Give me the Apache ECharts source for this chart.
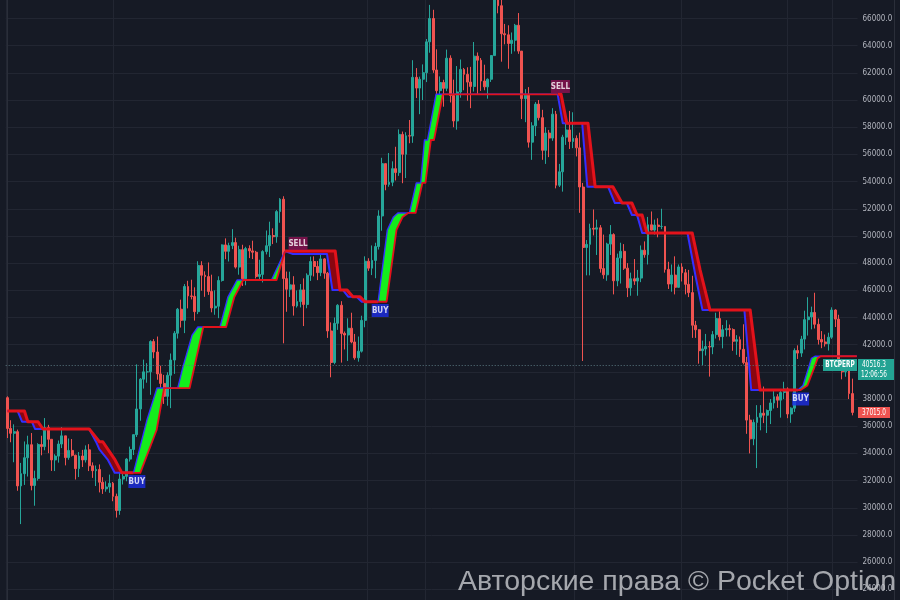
<!DOCTYPE html>
<html><head><meta charset="utf-8">
<script src="https://cdn.jsdelivr.net/npm/echarts@6/dist/echarts.min.js"></script>
<style>html,body{margin:0;padding:0;background:#161a25;}#c{width:900px;height:600px;}</style>
</head><body><div id="c"></div>
<script>
// ---- data (daily candles, 2021-06-18 .. 2022-02-21) ----
const startDate = [2021, 5, 18];
const open = [
38100,35840,35480,35600,31610,32510,33680,34640,31640,32160,34650,34500,35910,
35040,33520,33800,34690,35290,33690,34220,33860,32880,33810,33520,34260,33090,32730,32820,31880,31390,31530,31800,30840,29800,32110,32310,33580,34290,35380,37270,39460,40000,40000,42230,
41460,39850,39150,38200,39750,40870,42840,44610,43790,46280,45590,45550,44430,47830,47110,47010,45920,44700,44830,46720,49340,48870,49290,49510,47710,48990,46850,49070,48900,48800,47020,
47170,48850,49280,50030,49940,51790,52700,46860,46080,46400,44850,45170,46030,44960,47110,48120,47750,47300,48310,47260,43010,40690,43570,44900,42830,42710,43210,42200,41030,41520,
43790,48140,47630,48200,49220,51470,55320,53790,53950,54950,54660,57470,56010,57370,57350,61670,60880,61530,62010,64280,66000,62210,60690,61290,60860,63080,60330,58460,60590,62250,61890,
61320,61000,63230,62930,61400,60970,61530,63270,67530,66940,64880,64800,64160,64400,65500,63600,60100,60360,56900,58100,59700,58700,56300,57570,57200,58960,53730,54720,57270,57800,
56950,57180,56480,53600,49150,49380,50560,50500,50600,47600,47140,49400,50100,46700,48380,48870,47630,46180,46850,46680,46900,48950,48620,50820,50430,50800,50700,50700,47540,46460,47120,
46220,47720,47290,46440,45830,43430,43100,41560,41690,41860,41830,42740,43920,42590,43100,43180,43110,42250,42370,41660,40680,36450,35070,36280,36660,36960,36810,37160,37710,38170,37920,
38480,38740,36900,37330,41570,41380,42410,43840,44040,44370,43500,42380,42200,42070,42550,44550,43880,40520,40000,40100,38400
];
const high = [
38200,36440,36140,35750,33300,34880,35300,35500,32730,34750,35300,36600,36100,
35040,33940,34950,35940,35290,35100,35060,33910,34100,34260,34590,34680,33340,33110,33190,32250,31950,32440,31900,31040,32860,32580,33650,34500,35400,40550,39540,40900,40640,42320,42410,
42600,40450,39780,39970,41350,43000,44700,45310,46460,46700,46780,46220,48140,48140,47400,48050,47150,46000,47030,49380,49820,49500,50500,49870,49280,49350,49200,49310,49650,48900,48250,
48950,50400,51050,50560,51900,52780,52920,47380,47370,47040,45990,46460,46880,47250,48480,48500,48160,48820,48370,47350,43640,44000,44980,45200,42970,43940,44350,42790,42600,44130,
48500,48360,49300,49500,51890,55750,55330,56100,55490,56560,57840,57680,57630,58530,62930,62350,61720,62620,64490,67000,66640,63730,61740,61490,63710,63290,61500,62500,62980,62360,62410,
62440,64270,63500,63090,62600,61590,63300,67790,68520,69000,65600,65500,64970,65600,66400,63600,60800,60950,58370,59850,60000,59280,58000,57800,59400,59200,55300,57440,58860,59200,
59100,57400,57600,53900,49700,50900,51950,51200,50800,50100,49500,50800,50200,48700,49500,49400,48000,47300,48300,47500,49300,49600,51400,51800,51200,51300,52000,50700,48100,47900,48500,
47900,47990,47570,47500,47070,43750,43140,42300,42790,42250,43000,44350,44460,43450,43800,43480,43200,42700,42600,43500,41100,36840,36500,37550,37550,38920,37230,38000,38720,38360,38740,
39270,38860,37390,41730,41950,42650,44500,45490,44800,45820,43920,43000,42750,42880,44750,44600,44200,40950,40460,40150,39500
];
const low = [
35130,34820,33350,31250,28800,31680,32300,31280,30150,32000,33860,34230,34020,
32710,32700,33320,34390,33120,33530,33770,32080,32260,33000,33330,32700,32200,31600,31130,31020,31180,31100,30480,29280,29480,31710,31950,33400,33880,35210,36400,38770,39200,38310,41000,
39420,38690,37640,37510,37330,39850,42450,43260,42850,44670,45330,43770,44250,45970,45520,45660,44380,44200,43950,46640,48290,48120,49030,47600,47150,46320,46370,48370,48300,46870,46700,
46580,48640,48450,49400,49500,50970,42100,44420,45510,44140,44730,44740,43370,44680,46690,47020,46750,47040,46850,42500,39600,40560,43090,40680,41650,40800,42100,40890,40750,41420,
43280,47430,47120,46890,49000,50380,53360,53620,53660,54080,54420,53880,54260,56820,56850,60150,58960,60000,61320,63480,62000,60000,59700,59510,60650,59820,58000,57820,60170,60720,59950,
59400,60620,60380,60670,60720,60100,61330,63270,66380,62820,64100,62300,63400,63580,63400,58600,58370,56500,55600,57350,58500,55600,55300,55800,57000,53500,53600,53260,56700,56400,
56460,55850,51700,40800,47100,47100,50040,48600,47300,46850,46700,48600,45700,46300,46500,47500,45500,45600,46400,45600,46600,48400,47900,50400,50100,49900,50500,47300,46100,45900,45700,
46200,46650,45700,45500,42500,42500,40600,40500,41200,39650,41300,42450,42310,41730,42600,42600,41550,41250,41100,40550,35440,34000,34600,32920,35700,36230,35500,36160,37300,37350,36630,
38000,36590,36250,37050,40950,41100,41650,42670,43130,43190,42010,41740,41860,41570,42430,43300,40070,39450,39640,38000,36800
];
const close = [
35840,35480,35600,31610,32510,33680,34640,31640,32160,34650,34500,35910,35040,
33520,33800,34690,35290,33690,34220,33860,32880,33810,33520,34260,33090,32730,32820,31880,31390,31530,31800,30840,29800,32110,32310,33580,34290,35380,37270,39460,40000,40000,42230,41460,
39850,39150,38200,39750,40870,42840,44610,43790,46280,45590,45550,44430,47830,47110,47010,45920,44700,44830,46720,49340,48870,49290,49510,47710,48990,46850,49070,48900,48800,47020,47170,
48850,49280,50030,49940,51790,52700,46860,46080,46400,44850,45170,46030,44960,47110,48120,47750,47300,48310,47260,43010,40690,43570,44900,42830,42710,43210,42200,41030,41520,43790,
48140,47630,48200,49220,51470,55320,53790,53950,54950,54660,57470,56010,57370,57350,61670,60880,61530,62010,64280,66000,62210,60690,61290,60860,63080,60330,58460,60590,62250,61890,61320,
61000,63230,62930,61400,60970,61530,63270,67530,66940,64880,64800,64160,64400,65500,63600,60100,60360,56900,58100,59700,58700,56300,57570,57200,58960,53730,54720,57270,57800,56950,
57180,56480,53600,49150,49380,50560,50500,50600,47600,47140,49400,50100,46700,48380,48870,47630,46180,46850,46680,46900,48950,48620,50820,50430,50800,50700,50700,47540,46460,47120,46220,
47720,47290,46440,45830,43430,43100,41560,41690,41860,41830,42740,43920,42590,43100,43180,43110,42250,42370,41660,40680,36450,35070,36280,36660,36960,36810,37160,37710,38170,37920,38480,
38740,36900,37330,41570,41380,42410,43840,44040,44370,43500,42380,42200,42070,42550,44550,43880,40520,40000,40100,38400,37015
];

// trailing-stop indicator: [candle index, price]
const fastLine = [
[0,37120],[3,37120],[4.3,36330],[7.2,36330],[8.1,35800],[24,35800],[26,34860],[27,34300],[29.5,33520],[31.5,32570],[37,32570],
[41,36500],[43.9,38810],[50,38810],[51.5,40350],[54.2,42700],[55.9,43300],[62.4,43300],[64.7,45500],[67.4,46760],[77.5,46760],[81.5,48890],
[83.8,48670],[93.8,48670],[95.4,46020],[98.5,46020],[100,45530],[102.5,45530],[104,45160],[108.8,45160],
[111.5,50440],[113.3,51400],[114.6,51690],[118,51690],[120,53900],[121.3,53900],[122.4,57060],[123.3,57060],[125.8,60420],[161.5,60420],
[163,58290],[168.7,58290],[170.2,53620],[176.3,53620],[178.3,52420],[181.8,52420],[183.3,51540],[184.8,51540],[186.3,50220],[199.6,50220],[202,47000],[204,44550],[216.3,44550],[218.3,38665],[232,38665],
[233.5,39000],[235,40200],[236,41000],[237,41150],[249.3,41150]
];
const slowLine = [
[0,37120],[5,37120],[6,36330],[9,36330],[10.4,35800],[24,35800],[27,34860],[28,34860],[31.6,33520],[33.6,32570],[37,32570],
[39,32570],[43.8,35720],[45,37410],[46,38810],[53.5,38810],[57.5,43300],[64.2,43300],[66.6,45500],[69.2,46760],[79,46760],[81.5,48890],
[96.2,48890],[97.6,46020],[99.7,46020],[101.4,45530],[103.5,45530],[104.9,45160],[108.8,45160],
[111.3,45160],[114.2,50440],[116,51400],[117.6,51690],[119.8,51690],[121.8,53900],[122.7,53900],[124.3,57060],[125.2,57060],[127.8,60420],[161.5,60420],
[162.5,60420],[164.2,58290],[170.4,58290],[172.5,53620],[177.7,53620],[180.4,52420],[183.3,52420],[184.8,51540],[186.3,51540],[187.7,50220],[201,50220],[203.3,47500],[206.2,44550],[218,44550],[220.9,38665],[232,38665],
[232.8,38665],[234.8,39000],[236.8,40300],[237.8,41000],[238.7,41150],[249.3,41150]
];
const trendSegments = [[0,37,'down'],[37,81.5,'up'],[81.5,108.8,'down'],[108.8,161.5,'up'],[161.5,232,'down'],[232,249.3,'up']];
const buySignals = [[38,31930],[109.4,44515],[232.8,38003]];
const sellSignals = [[85.3,49444],[162.3,60997]];

const yMin = 22000, yMax = 68000, yStep = 2000;
const vGrid = [-0.5, 31, 105.5, 122.6, 166.3, 197.7, 228.8, 242];
const symbolName = 'BTCPERP';
const lastPrice = 40516.3;
const lastTime = '12:06:56';
const closePrice = 37015.0;
const watermark = 'Авторские права © Pocket Option';

// ---- chart ----
const NARROW = '"Liberation Sans Narrow","DejaVu Sans Condensed","Roboto Condensed","Liberation Sans",sans-serif';
const categories = [];
(function(){ const d0 = Date.UTC(startDate[0], startDate[1], startDate[2]);
  for (let i = 0; i < open.length + 1; i++) categories.push(new Date(d0 + i*86400000).toISOString().slice(0,10)); })();
const candles = open.map((o,i)=>[o, close[i], low[i], high[i]]);

const chart = echarts.init(document.getElementById('c'), null, {renderer:'canvas', width:900, height:600});

const STYLE = {
  down: {fill:'#8a0610', fast:{stroke:'#3330ff', lineWidth:2}, slow:{stroke:'#e3121b', lineWidth:3}},
  up:   {fill:'#14ee1c', fast:{stroke:'#3330ff', lineWidth:1.4}, slow:{stroke:'#e3121b', lineWidth:1.8}}
};

const option = {
  backgroundColor: '#161a25',
  animation: false,
  grid: {left:5.7, right:42.5, top:-8.7, bottom:-16.5, containLabel:false, outerBoundsMode:'none'},
  xAxis: [
    {type:'category', data:categories, boundaryGap:true, axisLine:{show:false}, axisTick:{show:false}, axisLabel:{show:false}, splitLine:{show:false}},
    {type:'value', min:-0.5, max:categories.length-0.5, show:false}
  ],
  yAxis: {type:'value', position:'right', min:yMin, max:yMax, interval:yStep,
    axisLine:{show:true, lineStyle:{color:'#2a2e39'}}, axisTick:{show:false},
    axisLabel:{color:'#b2b5be', fontSize:8, fontFamily:NARROW, margin:5, formatter:v=>v.toFixed(1)},
    splitLine:{show:true, lineStyle:{color:'#222632', width:1}}},
  series: [
    {type:'custom', name:'vgrid', xAxisIndex:1, yAxisIndex:0, z:1, silent:true,
      data: vGrid.map(v=>[v]),
      renderItem:(params, api)=>{ const v = api.value(0); const p1 = api.coord([v, yMax]); const p2 = api.coord([v, yMin]);
        const x = Math.round(p1[0]) + 0.5;
        return {type:'line', shape:{x1:x, y1:p1[1], x2:x, y2:p2[1]}, style:{stroke:'#222632', lineWidth:1}}; }},
    {type:'candlestick', xAxisIndex:0, yAxisIndex:0, z:3, data:candles, barWidth:2.4,
      itemStyle:{color:'#26a69a', color0:'#ef5350', borderColor:'#26a69a', borderColor0:'#ef5350', borderColorDoji:'#26a69a', borderWidth:1},
      markLine:{silent:true, symbol:'none', label:{show:false}, lineStyle:{color:'#5a7880', type:[1,2], width:1}, data:[{yAxis:lastPrice}]}},
    {type:'custom', name:'trailing stop', xAxisIndex:1, yAxisIndex:0, z:4, silent:true,
      data: trendSegments.map((s,i)=>[i]),
      renderItem:(params, api)=>{ const seg = trendSegments[params.dataIndex]; const s = seg[0], e = seg[1];
        const st = STYLE[seg[2]];
        const inSeg = p => p[0] >= s - 1e-6 && p[0] <= e + 1e-6;
        const f = fastLine.filter(inSeg).map(p=>api.coord(p));
        const sl = slowLine.filter(inSeg).map(p=>api.coord(p));
        return {type:'group', children:[
          {type:'polygon', shape:{points:f.concat(sl.slice().reverse())}, style:{fill:st.fill}},
          {type:'polyline', shape:{points:f}, style:Object.assign({fill:null, lineJoin:'round'}, st.fast)},
          {type:'polyline', shape:{points:sl}, style:Object.assign({fill:null, lineJoin:'round'}, st.slow)}
        ]}; }},
    {type:'scatter', name:'buy', xAxisIndex:1, yAxisIndex:0, z:7, silent:true, data:buySignals, symbol:'rect', symbolSize:[17,13],
      itemStyle:{color:'#1d2de6'}, label:{show:true, position:'inside', formatter:'BUY', color:'#ffffff', fontSize:8, fontWeight:'bold', fontFamily:NARROW}},
    {type:'scatter', name:'sell', xAxisIndex:1, yAxisIndex:0, z:7, silent:true, data:sellSignals, symbol:'rect', symbolSize:[19,13],
      itemStyle:{color:'#8c1153'}, label:{show:true, position:'inside', formatter:'SELL', color:'#ffffff', fontSize:8, fontWeight:'bold', fontFamily:NARROW}}
  ]
};
chart.setOption(option);

const yl = Math.round(chart.convertToPixel({yAxisIndex:0}, lastPrice));
const yc = Math.round(chart.convertToPixel({yAxisIndex:0}, closePrice));
const SMALL = '8px ' + NARROW;
chart.setOption({graphic:[
  {type:'line', z:90, shape:{x1:894.5, y1:0, x2:894.5, y2:600}, style:{stroke:'#2a2e39', lineWidth:1}},
  {type:'rect', z:100, shape:{x:823, y:yl-6, width:34, height:12}, style:{fill:'#23a393'}},
  {type:'text', z:101, x:840, y:yl, scaleX:0.8, style:{text:symbolName, fill:'#ffffff', font:'bold 8px '+NARROW, align:'center', verticalAlign:'middle'}},
  {type:'rect', z:100, shape:{x:858, y:yl-6, width:36, height:21}, style:{fill:'#23a393'}},
  {type:'text', z:101, x:874, y:yl+4.5, scaleX:0.8, style:{text:lastPrice.toFixed(1)+'\n'+lastTime, fill:'#ffffff', font:SMALL, lineHeight:10, align:'center', verticalAlign:'middle'}},
  {type:'rect', z:100, shape:{x:858, y:yc-5, width:32, height:11}, style:{fill:'#ef5350'}},
  {type:'text', z:101, x:874, y:yc+0.5, scaleX:0.8, style:{text:closePrice.toFixed(1), fill:'#ffffff', font:SMALL, align:'center', verticalAlign:'middle'}},
  {type:'text', z:200, x:458, y:582, style:{text:watermark, fill:'rgba(196,199,204,0.82)', font:'28.5px "Liberation Sans", Arial, sans-serif', align:'left', verticalAlign:'middle'}}
]});
</script>
</body></html>
